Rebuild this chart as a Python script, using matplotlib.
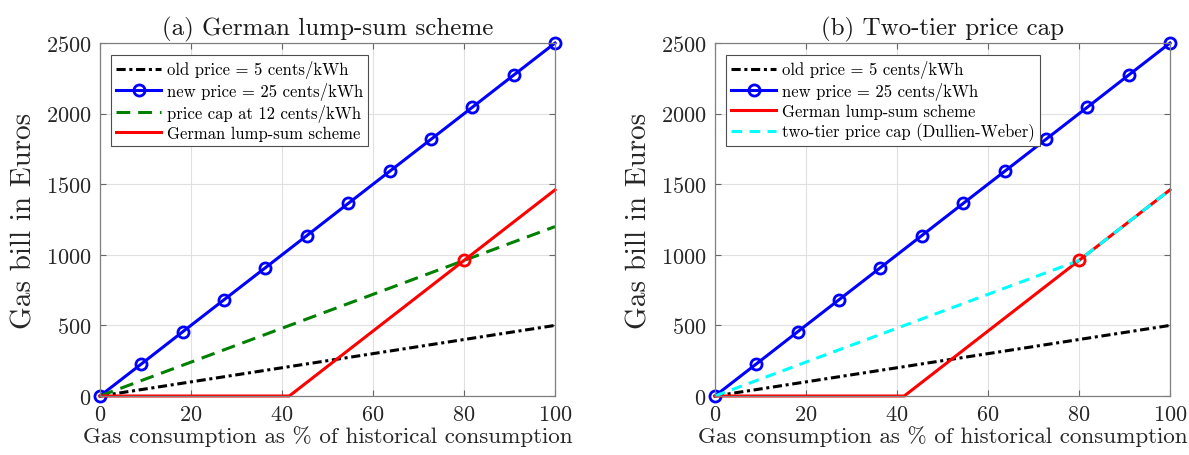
import numpy as np
import matplotlib
matplotlib.use("Agg")
from matplotlib import pyplot as plt

plt.rcParams['font.family'] = 'serif'
plt.rcParams['font.serif'] = ['cmr10']
plt.rcParams['mathtext.fontset'] = 'cm'
plt.rcParams['axes.unicode_minus'] = False
plt.rcParams['axes.formatter.use_mathtext'] = True

# data : consumption in % and bill in Euros
x = [0, 100]
old_bill = [0, 500]
x_new = [0, 9.09, 18.18, 27.27, 36.36, 45.45, 54.55, 63.64, 72.73, 81.82, 90.91, 100]
new_bill = [0, 227, 455, 682, 909, 1136, 1364, 1591, 1818, 2045, 2273, 2500]
cap_bill = [0, 1200]
x_lump = [0, 41.6, 100]
lump_bill = [0, 0, 1460]
x_tier = [0, 80, 100]
tier_bill = [0, 960, 1460]
cross = (80, 960)

fig = plt.figure(figsize=(11.89, 4.56), dpi=100)
ax1 = fig.add_axes([0.0841, 0.1294, 0.3827, 0.774])
ax2 = fig.add_axes([0.6013, 0.1294, 0.3827, 0.774])

def style(ax, title):
	ax.set_xlim(0, 100)
	ax.set_ylim(0, 2500)
	ax.set_xticks([0, 20, 40, 60, 80, 100])
	ax.set_yticks([0, 500, 1000, 1500, 2000, 2500])
	ax.grid(True, color='0.88', lw=0.8)
	ax.set_axisbelow(True)
	for s in ax.spines.values():
		s.set_color('0.5')
		s.set_linewidth(0.9)
	ax.tick_params(direction='in', top=True, right=True, color='0.4', length=4,
		labelsize=16, labelcolor='0.15', pad=6)
	ax.set_xlabel('Gas consumption as % of historical consumption', fontsize=16.6, color='0.15', labelpad=1)
	ax.set_ylabel('Gas bill in Euros', fontsize=21, color='0.15', labelpad=6)
	ax.set_title(title, fontsize=18, color='0.1', pad=6)

dashdot = (3, 1.2, 1, 1.2)

# (a)
ax1.plot(x, old_bill, color='k', lw=2.2, dashes=dashdot, label='old price = 5 cents/kWh', clip_on=False)
ax1.plot(x_new, new_bill, '-o', color='b', lw=2.2, ms=8, mfc='none', mew=2,
	label='new price = 25 cents/kWh', clip_on=False)
ax1.plot(x, cap_bill, color=(0, 0.5, 0), lw=2.2, dashes=(4.5, 2.6),
	label='price cap at 12 cents/kWh', clip_on=False)
ax1.plot(x_lump, lump_bill, '-', color='r', lw=2.2, label='German lump-sum scheme', clip_on=False)
ax1.plot(cross[0], cross[1], 'o', color='r', ms=8, mfc='none', mew=2)
style(ax1, '(a) German lump-sum scheme')

# (b)
ax2.plot(x, old_bill, color='k', lw=2.2, dashes=dashdot, label='old price = 5 cents/kWh', clip_on=False)
ax2.plot(x_new, new_bill, '-o', color='b', lw=2.2, ms=8, mfc='none', mew=2,
	label='new price = 25 cents/kWh', clip_on=False)
ax2.plot(x_lump, lump_bill, '-', color='r', lw=2.2, label='German lump-sum scheme', clip_on=False)
ax2.plot(x_tier, tier_bill, color='cyan', lw=2.2, dashes=(3.5, 2.4),
	label='two-tier price cap (Dullien-Weber)', clip_on=False)
ax2.plot(cross[0], cross[1], 'o', color='r', ms=8, mfc='none', mew=2)
style(ax2, '(b) Two-tier price cap')

for ax in (ax1, ax2):
	leg = ax.legend(loc='upper left', bbox_to_anchor=(0.025, 0.965), fontsize=12,
		fancybox=False, framealpha=1, edgecolor='0.3', borderpad=0.3,
		labelspacing=0.22, handlelength=2.7, handletextpad=0.35, borderaxespad=0)
	leg.get_frame().set_linewidth(0.8)

fig.savefig('out.png', dpi=100)
